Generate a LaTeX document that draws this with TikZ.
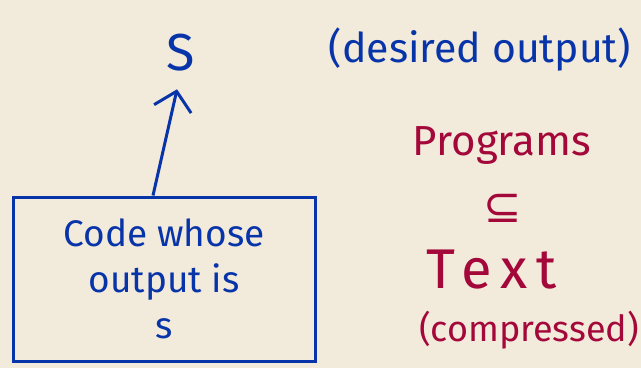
\documentclass[tikz,border=0pt]{standalone}
\usepackage{fontspec}
\setmainfont{Fira Sans}
\newfontfamily\symfont{DejaVu Sans}
\usetikzlibrary{arrows.meta}
\definecolor{paper}{RGB}{242,234,218}
\definecolor{penblue}{RGB}{8,52,170}
\definecolor{penred}{RGB}{164,8,58}

\begin{document}
\begin{tikzpicture}[x=1pt,y=-1pt,
  blue ink/.style={text=penblue,inner sep=0pt},
  red ink/.style={text=penred,inner sep=0pt}]
\fill[paper] (0,0) rectangle (641,368);
\node[blue ink,font=\fontsize{52}{52}\selectfont] (S) at (181,53) {S};
\node[blue ink,font=\fontsize{41}{41}\selectfont] (desired) at (480,50) {(desired output)};
\node[draw=penblue,line width=3pt,minimum width=302pt,minimum height=164pt,align=center,
  blue ink,font=\fontsize{37}{46}\selectfont] (box) at (164,279) {Code whose\\output is\\s};
\draw[penblue,line width=3pt,shorten >=18pt,-{Straight Barb[length=18pt,width=38pt,line width=3pt]}]
  ([xshift=-11pt]box.north) -- (S.south);
\node[red ink,font=\fontsize{42}{42}\selectfont] (prog) at (502,145) {Programs};
\node[red ink,font=\symfont\fontsize{46}{46}\selectfont] (sub) at (503,208) {⊆};
\node[red ink,font=\fontsize{56}{56}\selectfont\addfontfeatures{LetterSpace=16}] (text) at (492,270) {Text};
\node[red ink,font=\fontsize{36}{36}\selectfont] (comp) at (529,330) {(compressed)};
\end{tikzpicture}
\end{document}
